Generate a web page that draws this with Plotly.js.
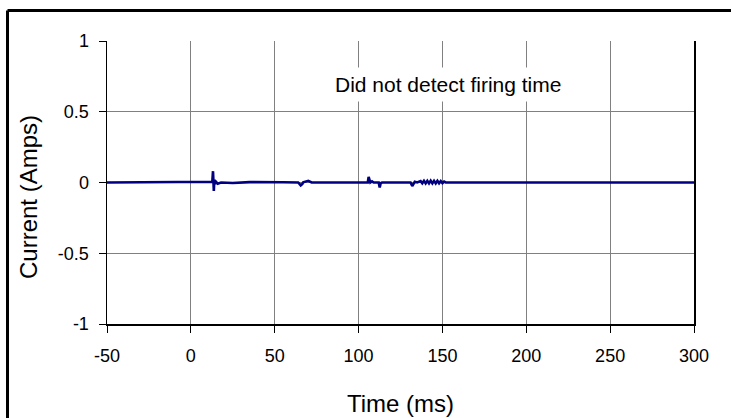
<!DOCTYPE html>
<html>
<head>
<meta charset="utf-8">
<script src="https://cdn.plot.ly/plotly-3.0.1.min.js"></script>
<style>
  html, body { margin: 0; padding: 0; background: #fff; }
  #chart { width: 731px; height: 418px; }
</style>
</head>
<body>
<div id="chart"></div>
<script>
// Time (ms)
const timeMs = [-50, -20, 0, 12, 12.8, 13.2, 13.4, 13.7, 14.0, 14.4, 15, 16, 18, 25, 35, 45, 55, 64,
  65.5, 66.5, 67, 70, 71, 72, 80, 95, 105.5, 106, 106.5, 107, 108, 109, 112, 112.6, 113.2, 114,
  120, 131, 132, 132.8, 133.5, 135, 137, 138, 139, 140, 141, 142, 143, 144, 145, 146, 147, 148,
  149, 150, 151, 152, 170, 200, 250, 300];
// Current (Amps)
const currentA = [0, 0.002, 0, 0, 0.005, 0.08, -0.01, -0.06, 0.02, -0.01, 0.005, -0.008, 0, -0.004, 0.003, 0, 0.002, 0,
  -0.02, -0.01, 0.002, 0.012, 0.003, 0, 0, 0.002, 0, 0.04, 0.005, 0, 0.008, 0, 0, -0.035, -0.005, 0,
  0, 0, -0.025, -0.005, 0.005, 0, 0.01, -0.005, 0.012, -0.006, 0.012, -0.006, 0.013, -0.006, 0.012, -0.006, 0.012, -0.005,
  0.01, -0.004, 0.006, 0, 0, 0.001, 0, 0];

const xTickVals = [-50, 0, 50, 100, 150, 200, 250, 300];
const yTickVals = [-1, -0.5, 0, 0.5, 1];
const yTickText = ["-1", "-0.5", "0", "0.5", "1"];
const noteText = "Did not detect firing time";
const xTitle = "Time (ms)";
const yTitle = "Current (Amps)";

const W = 731, H = 418;
const L = 107, R = 694, T = 41, B = 324;
const px2paperX = p => (p - L) / (R - L);
const px2paperY = p => (B - p) / (B - T);

const tickFont = { family: "'Liberation Sans Narrow', 'Arial Narrow', 'Liberation Sans', Arial, sans-serif", size: 18, color: "#000" };
const titleFont = { family: "'Liberation Sans', Arial, sans-serif", size: 24, color: "#000" };

const trace = {
  x: timeMs, y: currentA, type: "scatter", mode: "lines",
  line: { color: "#000080", width: 2.6 },
  hoverinfo: "skip", showlegend: false
};

const layout = {
  width: W, height: H,
  margin: { l: L, r: W - R, t: T, b: H - B, pad: 0 },
  paper_bgcolor: "#fff", plot_bgcolor: "#fff",
  showlegend: false,
  xaxis: {
    range: [-50, 300], tickvals: xTickVals, ticktext: xTickVals.map(String),
    showgrid: true, gridcolor: "#808080", gridwidth: 1,
    zeroline: false, showline: true, linecolor: "#000", linewidth: 1.5,
    ticks: "outside", ticklen: 7, tickcolor: "#000", tickwidth: 1,
    tickfont: tickFont, ticklabelstandoff: 8,
    title: { text: xTitle, font: titleFont, standoff: 30 },
    fixedrange: true
  },
  yaxis: {
    range: [-1, 1], tickvals: yTickVals, ticktext: yTickText,
    showgrid: true, gridcolor: "#808080", gridwidth: 1,
    zeroline: false, showline: true, mirror: true, linecolor: "#000", linewidth: 1.5,
    ticks: "outside", ticklen: 7, tickcolor: "#000", tickwidth: 1,
    tickfont: tickFont, ticklabelstandoff: 6,
    fixedrange: true
  },
  annotations: [{
    x: 153.3, y: 0.69, xref: "x", yref: "y",
    text: noteText, showarrow: false,
    font: { family: "'Liberation Sans', Arial, sans-serif", size: 21, color: "#000" },
    bgcolor: "#fff", borderpad: 5
  }, {
    x: px2paperX(29), y: px2paperY(197), xref: "paper", yref: "paper",
    xanchor: "center", yanchor: "middle", textangle: -90,
    text: yTitle, showarrow: false, font: titleFont
  }],
  shapes: [
    { type: "line", xref: "paper", yref: "paper",
      x0: px2paperX(7.5), x1: px2paperX(760), y0: px2paperY(10.5), y1: px2paperY(10.5),
      line: { color: "#000", width: 3 } },
    { type: "line", xref: "paper", yref: "paper",
      x0: px2paperX(7.5), x1: px2paperX(7.5), y0: px2paperY(10.5), y1: px2paperY(460),
      line: { color: "#000", width: 3 } }
  ]
};

Plotly.newPlot("chart", [trace], layout, { staticPlot: true, displayModeBar: false });
</script>
</body>
</html>
